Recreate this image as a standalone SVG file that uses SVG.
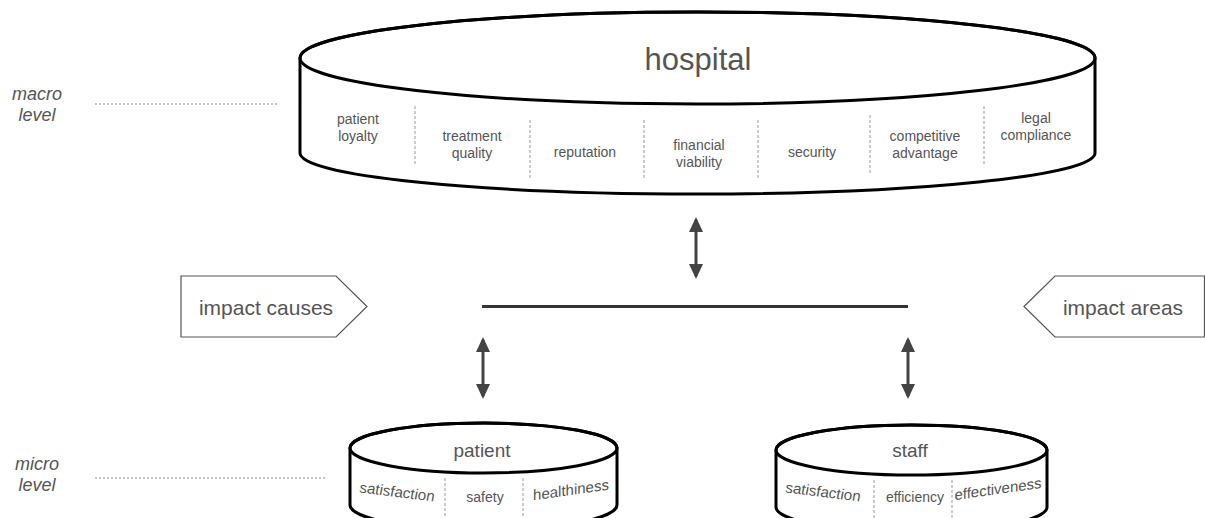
<svg xmlns="http://www.w3.org/2000/svg" width="1205" height="518" viewBox="0 0 1205 518">
  <defs>
    <marker id="head" viewBox="0 0 15 14" refX="12" refY="7" markerWidth="15" markerHeight="14" markerUnits="userSpaceOnUse" orient="auto-start-reverse">
      <path d="M0,0 L15,7 L0,14 Z" fill="#444"/>
    </marker>
    <style>
      text { font-family: "Liberation Sans", Arial, sans-serif; fill: #555; }
      .title { font-size: 31px; text-anchor: middle; }
      .sub { font-size: 19px; text-anchor: middle; }
      .lbl { font-size: 14px; text-anchor: middle; }
      .bend { font-size: 15px; text-anchor: middle; }
      .ital { font-style: italic; }
      .lvl { font-size: 18px; font-style: italic; text-anchor: middle; }
      .tag { font-size: 21px; text-anchor: middle; }
      .body { fill: #fff; stroke: #000; stroke-width: 3; }
      .rim { fill: none; stroke: #000; stroke-width: 3; }
      .div { stroke: #999; stroke-width: 1; stroke-dasharray: 3 2; fill: none; }
      .guide { stroke: #888; stroke-width: 1; stroke-dasharray: 2 2; fill: none; }
      .pent { fill: #fff; stroke: #555; stroke-width: 1.2; }
      .link { stroke: #444; stroke-width: 3; fill: none; }
    </style>
  </defs>
  <rect width="1205" height="518" fill="#fff"/>

  <!-- level labels -->
  <g id="macro-level">
    <text class="lvl" x="37" y="100">macro</text>
    <text class="lvl" x="37" y="121">level</text>
    <line class="guide" x1="95" y1="104" x2="279" y2="104"/>
  </g>
  <g id="micro-level">
    <text class="lvl" x="37" y="470">micro</text>
    <text class="lvl" x="37" y="491">level</text>
    <line class="guide" x1="95" y1="478" x2="327" y2="478"/>
  </g>

  <!-- hospital cylinder -->
  <g id="hospital">
    <path class="body" d="M300,58 A397.5,46 0 0,1 1095,58 L1095,153 A397.5,41 0 0,1 300,153 Z"/>
    <ellipse class="rim" cx="697.5" cy="58" rx="397.5" ry="46"/>
    <text class="title" x="698" y="70">hospital</text>
    <line class="div" x1="415" y1="106" x2="415" y2="164"/>
    <line class="div" x1="530" y1="120" x2="530" y2="180"/>
    <line class="div" x1="644" y1="120" x2="644" y2="180"/>
    <line class="div" x1="758" y1="120" x2="758" y2="180"/>
    <line class="div" x1="870" y1="115" x2="870" y2="175"/>
    <line class="div" x1="984" y1="106" x2="984" y2="165"/>
    <text class="lbl" x="358" y="124">patient</text>
    <text class="lbl" x="358" y="141">loyalty</text>
    <text class="lbl" x="472" y="141">treatment</text>
    <text class="lbl" x="472" y="158">quality</text>
    <text class="lbl" x="585" y="157">reputation</text>
    <text class="lbl" x="699" y="150">financial</text>
    <text class="lbl" x="699" y="167">viability</text>
    <text class="lbl" x="812" y="157">security</text>
    <text class="lbl" x="925" y="141">competitive</text>
    <text class="lbl" x="925" y="158">advantage</text>
    <text class="lbl" x="1036" y="123">legal</text>
    <text class="lbl" x="1036" y="140">compliance</text>
  </g>

  <!-- side tags -->
  <g id="impact-causes">
    <path class="pent" d="M181,276 L336,276 L367,306.5 L336,337 L181,337 Z"/>
    <text class="tag" x="266" y="315">impact causes</text>
  </g>
  <g id="impact-areas">
    <path class="pent" d="M1024,306.5 L1055,276 L1204.5,276 L1204.5,337 L1055,337 Z"/>
    <text class="tag" x="1123" y="315">impact areas</text>
  </g>

  <!-- patient cylinder -->
  <g id="patient">
    <path class="body" d="M350,448 A133.5,25 0 0,1 617,448 L617,505 A133.5,25 0 0,1 350,505 Z"/>
    <ellipse class="rim" cx="483.5" cy="448" rx="133.5" ry="25"/>
    <text class="sub" x="482" y="457">patient</text>
    <line class="div" x1="445" y1="478" x2="445" y2="518"/>
    <line class="div" x1="523" y1="478" x2="523" y2="518"/>
    <text class="bend ital" transform="translate(397 497) skewY(7)">satisfaction</text>
    <text class="lbl" x="485" y="502">safety</text>
    <text class="bend" transform="translate(571 495) skewY(-8)">healthiness</text>
  </g>

  <!-- staff cylinder -->
  <g id="staff">
    <path class="body" d="M776,450 A135.5,25 0 0,1 1047,450 L1047,507 A135.5,25 0 0,1 776,507 Z"/>
    <ellipse class="rim" cx="911.5" cy="450" rx="135.5" ry="25"/>
    <text class="sub" x="910" y="457">staff</text>
    <line class="div" x1="874" y1="480" x2="874" y2="518"/>
    <line class="div" x1="952" y1="480" x2="952" y2="518"/>
    <text class="bend ital" transform="translate(823 497) skewY(7)">satisfaction</text>
    <text class="lbl" x="915" y="502">efficiency</text>
    <text class="bend" transform="translate(998 494) skewY(-8)">effectiveness</text>
  </g>

  <!-- connectors -->
  <g id="connectors">
    <line x1="482" y1="306.5" x2="908" y2="306.5" stroke="#333" stroke-width="3"/>
    <line class="link" x1="696" y1="220" x2="696" y2="276" marker-start="url(#head)" marker-end="url(#head)"/>
    <line class="link" x1="483" y1="340" x2="483" y2="396" marker-start="url(#head)" marker-end="url(#head)"/>
    <line class="link" x1="908" y1="340" x2="908" y2="396" marker-start="url(#head)" marker-end="url(#head)"/>
  </g>
</svg>
